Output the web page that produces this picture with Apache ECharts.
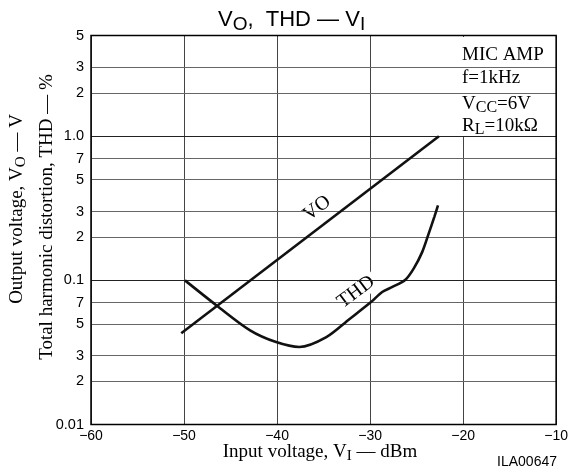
<!DOCTYPE html>
<html><head><meta charset="utf-8">
<script src="https://cdn.jsdelivr.net/npm/echarts@6/dist/echarts.min.js"></script>
<style>html,body{margin:0;padding:0;background:#fff}#c{width:571px;height:472px}</style>
</head><body><div id="c"></div>
<script>
// ---- data ----
const xTickValues = [-60, -50, -40, -30, -20, -10];
const yTickValues = [5, 3, 2, 1, 0.7, 0.5, 0.3, 0.2, 0.1, 0.07, 0.05, 0.03, 0.02, 0.01];
const yTickLabels = ['5', '3', '2', '1.0', '7', '5', '3', '2', '0.1', '7', '5', '3', '2', '0.01'];
const voX = [-50.3, -22.6];
const voY = [0.043, 1.0];
const thdX = [-49.9, -46.5, -42.9, -40.1, -37.6, -34.7, -32.2, -29.9, -28.7, -27.6, -26.2, -25.3, -24.4, -23.7, -23.1, -22.7];
const thdY = [0.100, 0.067, 0.045, 0.0373, 0.0345, 0.0404, 0.0540, 0.0707, 0.083, 0.090, 0.101, 0.121, 0.157, 0.211, 0.275, 0.331];
const curveLabelText = ['VO', 'THD'];
const curveLabelX = [-35.7, -31.5];
const curveLabelY = [0.316, 0.083];

const SERIF = "'Liberation Serif','Times New Roman',serif";
const SANS = "'Liberation Sans',Arial,sans-serif";

const chart = echarts.init(document.getElementById('c'), null, {renderer: 'canvas'});

const gridLines = yTickValues.map((v, i) => ({
  yAxis: v,
  label: {formatter: yTickLabels[i]},
  lineStyle: {
    color: (v === 5 || v === 0.01) ? 'rgba(0,0,0,0)' : ((v === 1 || v === 0.1) ? '#222' : '#666'),
    width: 1, type: 'solid'
  }
}));

const option = {
  animation: false,
  backgroundColor: '#fff',
  grid: {left: 91, right: 13.5, top: 35.5, bottom: 47.5, show: true, borderColor: '#000', borderWidth: 1.5, backgroundColor: 'transparent', z: 6},
  xAxis: {
    type: 'value', min: -60, max: -10, interval: 10,
    axisLine: {show: false}, axisTick: {show: false},
    axisLabel: {color: '#000', fontSize: 14, fontFamily: SANS, margin: 5,
      formatter: v => xTickValues.includes(v) ? String(v).replace('-', '\u2212') : ''},
    splitLine: {show: true, lineStyle: {color: '#444', width: 1}}
  },
  yAxis: {
    type: 'log', logBase: 10, min: 0.01, max: 5,
    axisLine: {show: false}, axisTick: {show: false}, axisLabel: {show: false},
    splitLine: {show: false}, minorSplitLine: {show: false}
  },
  graphic: [
    {type: 'rect', z: 3, shape: {x: 453, y: 37, width: 102, height: 100}, style: {fill: '#fff'}},
    {type: 'text', z: 4, x: 462, y: 55, style: {text: 'MIC AMP', font: `19px ${SERIF}`, fill: '#000', verticalAlign: 'middle'}},
    {type: 'text', z: 4, x: 462, y: 78, style: {text: 'f=1kHz', font: `19px ${SERIF}`, fill: '#000', verticalAlign: 'middle'}},
    {type: 'text', z: 4, x: 462, y: 104, style: {
      text: '{n|V}{s|CC}{n|=6V}', verticalAlign: 'middle', fill: '#000',
      rich: {n: {fontFamily: SERIF, fontSize: 19}, s: {fontFamily: SERIF, fontSize: 16, padding: [8, 0, 0, 0]}}}},
    {type: 'text', z: 4, x: 462, y: 126, style: {
      text: '{n|R}{s|L}{n|=10kΩ}', verticalAlign: 'middle', fill: '#000',
      rich: {n: {fontFamily: SERIF, fontSize: 19}, s: {fontFamily: SERIF, fontSize: 16, padding: [8, 0, 0, 0]}}}},
    {type: 'text', x: 218, y: 20, style: {
      text: '{n|V}{s|O}{n|,  THD — V}{s|I}', verticalAlign: 'middle', fill: '#000',
      rich: {n: {fontFamily: SANS, fontSize: 22}, s: {fontFamily: SANS, fontSize: 19, padding: [9, 0, 0, 0]}}}},
    {type: 'text', x: 320, y: 452, style: {
      text: '{n|Input voltage, V}{s|I}{n| — dBm}', align: 'center', verticalAlign: 'middle', fill: '#000',
      rich: {n: {fontFamily: SERIF, fontSize: 19}, s: {fontFamily: SERIF, fontSize: 15, padding: [8, 0, 0, 0]}}}},
    {type: 'text', x: 557, y: 462, style: {text: 'ILA00647', font: `14px ${SANS}`, fill: '#000', align: 'right', verticalAlign: 'middle'}},
    {type: 'text', x: 17, y: 209, rotation: Math.PI / 2, style: {
      text: '{n|Output voltage, V}{s|O}{n| — V}', align: 'center', verticalAlign: 'middle', fill: '#000',
      rich: {n: {fontFamily: SERIF, fontSize: 19}, s: {fontFamily: SERIF, fontSize: 15, padding: [8, 0, 0, 0]}}}},
    {type: 'text', x: 47, y: 217, rotation: Math.PI / 2, style: {
      text: 'Total harmonic distortion, THD — %', font: `19px ${SERIF}`, fill: '#000', align: 'center', verticalAlign: 'middle'}}
  ],
  series: [
    {
      type: 'line', name: 'grid', z: 1, data: [], silent: true,
      markLine: {
        silent: true, symbol: ['none', 'none'], animation: false,
        label: {show: true, position: 'start', distance: 7, color: '#000', fontSize: 14.5, fontFamily: SANS},
        data: gridLines
      }
    },
    {
      type: 'scatter', name: 'labels', z: 2, symbolSize: 0, silent: true,
      itemStyle: {opacity: 1},
      data: curveLabelText.map((t, i) => [curveLabelX[i], curveLabelY[i], t]),
      label: {show: true, position: 'inside', rotate: 37, formatter: p => p.data[2],
        fontFamily: SERIF, fontSize: 20, color: '#000', opacity: 1, backgroundColor: '#fff', padding: [0, 3, 0, 3]}
    },
    {
      type: 'line', name: 'VO', z: 5, symbol: 'none', silent: true,
      data: voX.map((x, i) => [x, voY[i]]),
      lineStyle: {color: '#111', width: 2.6}
    },
    {
      type: 'line', name: 'THD', z: 5, symbol: 'none', silent: true, smooth: 0.3,
      data: thdX.map((x, i) => [x, thdY[i]]),
      lineStyle: {color: '#111', width: 2.6}
    }
  ]
};
chart.setOption(option);
</script>
</body></html>
